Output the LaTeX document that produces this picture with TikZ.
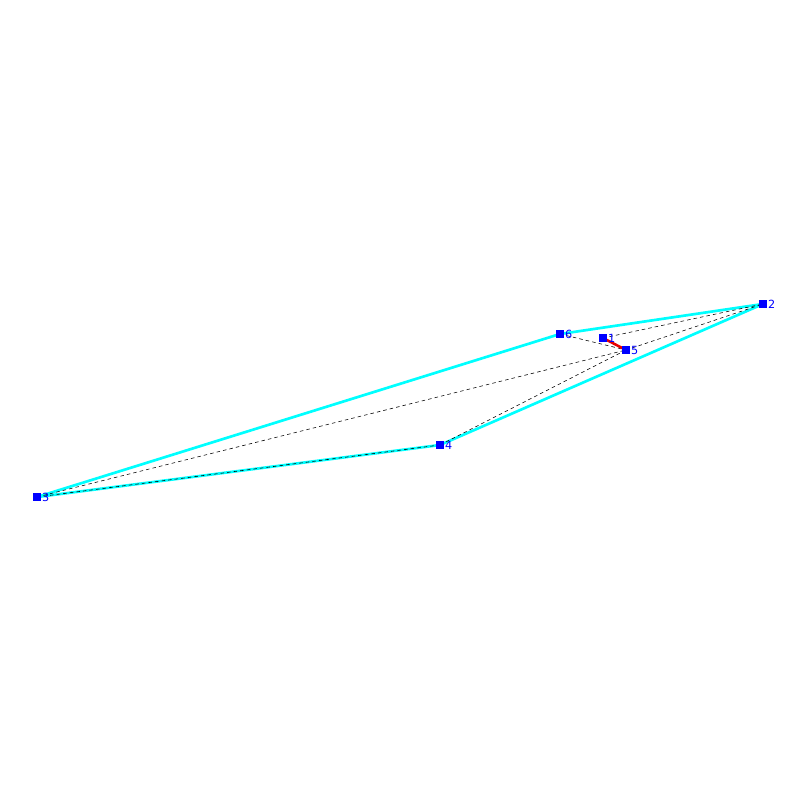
\documentclass[tikz,border=0pt]{standalone}
\usepackage{fontspec}
\setsansfont{DejaVu Sans}
\definecolor{hullcyan}{RGB}{0,255,255}
\definecolor{vtxblue}{RGB}{0,0,255}
\definecolor{cutred}{RGB}{230,0,0}
\tikzset{
  vtx/.style={fill=vtxblue, inner sep=0pt, minimum size=7.5*0.025cm,
    label={[text=vtxblue, font=\sffamily\fontsize{8}{9}\selectfont, inner sep=0.5pt]right:#1}},
  hull/.style={hullcyan, line width=1.9pt},
  diag/.style={black, line width=0.4pt, dash pattern=on 2.5pt off 2.2pt},
  cut/.style={cutred, line width=1.8pt}
}
\begin{document}
\begin{tikzpicture}[x=0.025cm, y=-0.025cm]
      \useasboundingbox (0,0) rectangle (800,800);
      \path
        (603,338) coordinate (1)
        (763,304) coordinate (2)
        (37,497) coordinate (3)
        (440,445) coordinate (4)
        (626,350) coordinate (5)
        (560,334) coordinate (6);
      \begin{scope}[hull]
        \draw (3) to (6);
        \draw (6) to (2);
        \draw (2) to (4);
        \draw (4) to (3);
      \end{scope}
      \begin{scope}[diag]
        \draw (3) to (4);
        \draw (3) to (5);
        \draw (4) to (5);
        \draw (6) to (5);
        \draw (1) to (2);
        \draw (5) to (2);
      \end{scope}
      \draw[cut] (1) to (5);
      \path
        (1) node[vtx=1] (n1){}
        (2) node[vtx=2] (n2){}
        (3) node[vtx=3] (n3){}
        (4) node[vtx=4] (n4){}
        (5) node[vtx=5] (n5){}
        (6) node[vtx=6] (n6){};
    \end{tikzpicture}
\end{document}
